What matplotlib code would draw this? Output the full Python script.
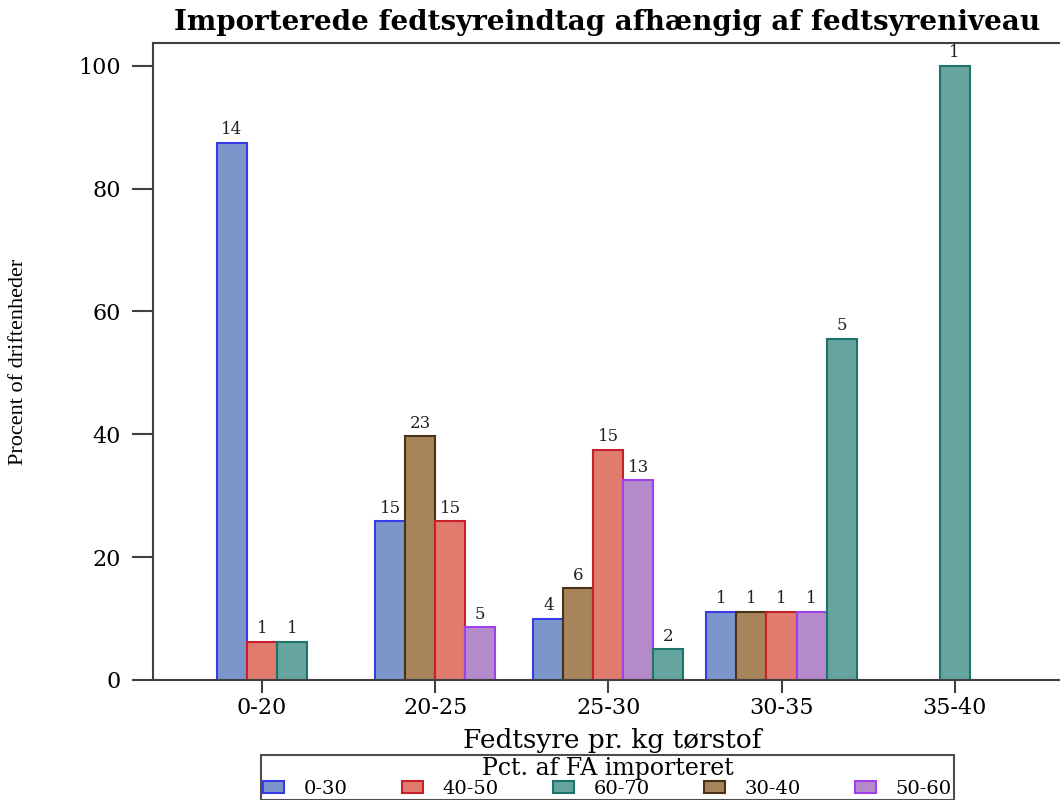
import numpy as np
import matplotlib.pyplot as plt
from matplotlib.patches import Patch

# Fedtsyre-grupper (x-akse) og andel importeret (serier)
groups = ["0-20", "20-25", "25-30", "30-35", "35-40"]
series = ["0-30", "30-40", "40-50", "50-60", "60-70"]
legend_order = ["0-30", "40-50", "60-70", "30-40", "50-60"]

# procent af driftenheder pr. gruppe (None = ingen bar)
pct_0_30 = [87.5, 25.86, 10.0, 11.11, None]
pct_30_40 = [None, 39.66, 15.0, 11.11, None]
pct_40_50 = [6.25, 25.86, 37.5, 11.11, None]
pct_50_60 = [None, 8.62, 32.5, 11.11, None]
pct_60_70 = [6.25, None, 5.0, 55.56, 100.0]

# antal driftenheder (etiketter over bars)
n_0_30 = [14, 15, 4, 1, None]
n_30_40 = [None, 23, 6, 1, None]
n_40_50 = [1, 15, 15, 1, None]
n_50_60 = [None, 5, 13, 1, None]
n_60_70 = [1, None, 2, 5, 1]

pct = dict(zip(series, [pct_0_30, pct_30_40, pct_40_50, pct_50_60, pct_60_70]))
cnt = dict(zip(series, [n_0_30, n_30_40, n_40_50, n_50_60, n_60_70]))

fill = {"0-30": "#7b96cb", "30-40": "#a7845a", "40-50": "#e07b6e",
        "50-60": "#b58acb", "60-70": "#66a59f"}
edge = {"0-30": "#3a3ae8", "30-40": "#4a3216", "40-50": "#c8202a",
        "50-60": "#a040e8", "60-70": "#1e7468"}

SERIF = "DejaVu Serif"
W = 0.1734

fig = plt.figure(figsize=(10.6, 8.0), dpi=100)
ax = fig.add_axes([153 / 1060, 120 / 800, 909 / 1060, 637 / 800])

for gi, g in enumerate(groups):
    present = [s for s in series if pct[s][gi] is not None]
    k = len(present)
    for j, s in enumerate(present):
        x = gi + (j - (k - 1) / 2) * W
        ax.bar(x, pct[s][gi], width=W, color=fill[s], edgecolor=edge[s], linewidth=1.5)
        ax.text(x, pct[s][gi] + 0.7, str(cnt[s][gi]), ha="center", va="bottom",
                fontsize=12, family=SERIF, color="#222222")

ax.set_xlim(-0.63, 4.62)
ax.set_ylim(0, 103.7)
ax.set_xticks(range(len(groups)))
ax.set_xticklabels(groups, family=SERIF, fontsize=16)
ax.set_yticks([0, 20, 40, 60, 80, 100])
ax.set_yticklabels(["0", "20", "40", "60", "80", "100"], family=SERIF, fontsize=16)
ax.tick_params(axis="y", length=15, width=1.5, pad=8, color="#404040")
ax.tick_params(axis="x", length=9, width=1.5, pad=3, color="#404040")

for side in ["left", "top", "bottom", "right"]:
    ax.spines[side].set_linewidth(1.5)
    ax.spines[side].set_color("#404040")

ax.set_title("Importerede fedtsyreindtag afhængig af fedtsyreniveau",
             family=SERIF, fontweight="bold", fontsize=20, pad=9)
ax.set_xlabel("Fedtsyre pr. kg tørstof", family=SERIF, fontsize=19)
ax.xaxis.set_label_coords(0.505, -0.075)
ax.set_ylabel("Procent of driftenheder", family="Liberation Serif", fontsize=16)
ax.yaxis.set_label_coords(-0.137, 0.5)

handles = [Patch(facecolor=fill[s], edgecolor=edge[s], linewidth=1.5, label=s) for s in legend_order]
leg = fig.legend(handles=handles, loc="upper center", bbox_to_anchor=(607.5 / 1060, 45 / 800),
                 ncol=5, title="Pct. af FA importeret", frameon=True, fancybox=False,
                 prop={"family": SERIF, "size": 14}, handlelength=1.08, handleheight=0.6,
                 columnspacing=2.8, borderpad=0.1, handletextpad=1.0, labelspacing=0.0,
                 borderaxespad=0)
leg.get_title().set_family(SERIF)
leg.get_title().set_fontsize(17)
leg.get_frame().set_edgecolor("#222222")
leg.get_frame().set_linewidth(1.5)

fig.savefig("out.png", dpi=100)
